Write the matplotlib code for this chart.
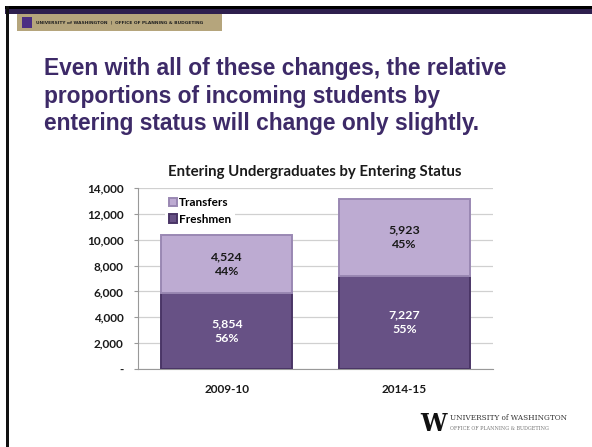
import matplotlib
matplotlib.use("Agg")
import matplotlib.pyplot as plt
from matplotlib.patches import Rectangle
import numpy as np

categories = ["2009-10", "2014-15"]
freshmen = [5854, 7227]
transfers = [4524, 5923]
fresh_pct = ["56%", "55%"]
trans_pct = ["44%", "45%"]
yticks = [0, 2000, 4000, 6000, 8000, 10000, 12000, 14000]
ytick_labels = ["-", "2,000", "4,000", "6,000", "8,000", "10,000", "12,000", "14,000"]

W, H = 592, 447
fig = plt.figure(figsize=(W / 100, H / 100), dpi=100)
fig.patch.set_facecolor("white")

def fx(x):
    return x / W

def fy(y):
    return 1 - y / H

# slide frame
fig.patches.append(Rectangle((fx(5), fy(14)), fx(592 - 5), 6 / H, transform=fig.transFigure,
                             facecolor="#2E1F4E", edgecolor="none"))
fig.patches.append(Rectangle((fx(5), fy(9)), fx(592 - 5), 3 / H, transform=fig.transFigure,
                             facecolor="#000000", edgecolor="none"))
fig.patches.append(Rectangle((fx(6), fy(447)), 3 / W, (447 - 6) / H, transform=fig.transFigure,
                             facecolor="#111111", edgecolor="none"))

# top-left banner
fig.patches.append(Rectangle((fx(17), fy(31)), fx(205), 17 / H, transform=fig.transFigure,
                             facecolor="#B5A57C", edgecolor="none"))
fig.patches.append(Rectangle((fx(22), fy(28)), fx(10), 11 / H, transform=fig.transFigure,
                             facecolor="#4B2E83", edgecolor="none"))
fig.text(fx(36), fy(22.5), "UNIVERSITY of WASHINGTON  |  OFFICE OF PLANNING & BUDGETING",
         fontsize=3.2, fontweight="bold", color="#222222", va="center", ha="left",
         family="DejaVu Sans")

# slide title
title_color = "#3D2A68"
lines = ["Even with all of these changes, the relative",
         "proportions of incoming students by",
         "entering status will change only slightly."]
for i, ln in enumerate(lines):
    fig.text(fx(44), fy(75 + i * 27.5), ln, fontsize=16.4, fontweight="bold",
             color=title_color, family="Liberation Sans", va="baseline", ha="left")

# chart
ax = fig.add_axes([fx(138), fy(369), fx(493 - 138), (369 - 188) / H])
x = np.arange(len(categories))
bw = 0.74
fc_f = "#675185"
fc_t = "#BDABD2"
b1 = ax.bar(x, freshmen, bw, color=fc_f, edgecolor="#4A3566", linewidth=1.4, label="Freshmen", zorder=3)
b2 = ax.bar(x, transfers, bw, bottom=freshmen, color=fc_t, edgecolor="#9A88B3", linewidth=1.4,
            label="Transfers", zorder=3)
for i in range(len(categories)):
    ax.text(x[i], freshmen[i] / 2, f"{freshmen[i]:,}\n{fresh_pct[i]}", ha="center", va="center",
            color="white", fontsize=8.9, fontweight="bold", family="Lato", linespacing=1.35, zorder=4)
    ax.text(x[i], freshmen[i] + transfers[i] / 2, f"{transfers[i]:,}\n{trans_pct[i]}", ha="center",
            va="center", color="#1A1A1A", fontsize=8.9, fontweight="bold", family="Lato",
            linespacing=1.35, zorder=4)

ax.set_xlim(-0.5, 1.5)
ax.set_ylim(0, 14000)
ax.set_yticks(yticks)
ax.set_yticklabels(ytick_labels)
ax.set_xticks(x)
ax.set_xticklabels(categories)
for lab in ax.get_yticklabels() + ax.get_xticklabels():
    lab.set_fontweight("bold")
    lab.set_family("Lato")
    lab.set_fontsize(8.5)
    lab.set_color("#1A1A1A")
ax.tick_params(axis="y", length=3, color="#999999", pad=7.5)
ax.tick_params(axis="x", length=0, pad=11)
ax.grid(axis="y", color="#D0D0D0", linewidth=0.9, zorder=0)
ax.set_axisbelow(True)
for s in ["top", "right"]:
    ax.spines[s].set_visible(False)
ax.spines["left"].set_color("#999999")
ax.spines["bottom"].set_color("#999999")

handles = [b2, b1]
leg = ax.legend(handles, ["Transfers", "Freshmen"], loc="upper left", bbox_to_anchor=(0.06, 1.0),
                frameon=True, fancybox=False, framealpha=1, edgecolor="none",
                prop={"family": "Lato", "weight": "bold", "size": 8.5}, handlelength=0.7,
                handleheight=0.7, handletextpad=0.2, labelspacing=0.45, borderpad=0.3)
leg.set_zorder(5)

fig.text(fx(315), fy(172), "Entering Undergraduates by Entering Status", ha="center", va="center",
         fontsize=10.8, fontweight="bold", family="Lato", color="#1A1A1A")

# bottom-right logo
fig.text(fx(420), fy(424), "W", fontsize=17, fontweight="bold", family="DejaVu Serif",
         color="#111111", ha="left", va="center")
fig.text(fx(450), fy(418), "UNIVERSITY of WASHINGTON", fontsize=5.2, family="DejaVu Serif",
         color="#333333", ha="left", va="center")
fig.text(fx(450), fy(429), "OFFICE OF PLANNING & BUDGETING", fontsize=3.5, family="DejaVu Serif",
         color="#777777", ha="left", va="center")

fig.savefig("out.png", dpi=100, facecolor="white")
